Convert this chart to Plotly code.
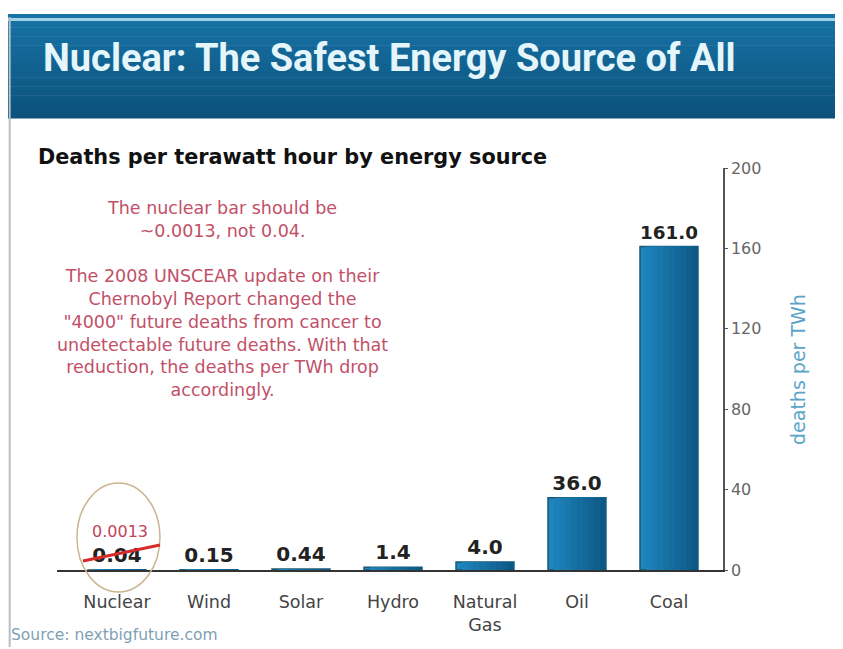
"""
Deaths per TWh by energy source - recreated chart
"""
import plotly.graph_objects as go

# data
sources = ['Nuclear', 'Wind', 'Solar', 'Hydro', 'Natural<br>Gas', 'Oil', 'Coal']
deaths_per_twh = [0.04, 0.15, 0.44, 1.4, 4.0, 36.0, 161.0]
value_labels = ['0.04', '0.15', '0.44', '1.4', '4.0', '36.0', '161.0']
corrected_nuclear = 0.0013
y_ticks = [0, 40, 80, 120, 160, 200]

note_lines = [
    "The nuclear bar should be",
    "~0.0013, not 0.04.",
    "",
    "The 2008 UNSCEAR update on their",
    "Chernobyl Report changed the",
    "\"4000\" future deaths from cancer to",
    "undetectable future deaths. With that",
    "reduction, the deaths per TWh drop",
    "accordingly.",
]

W, H = 843, 649
BAR_W = 0.63


# positions measured on the reference picture (pixels) -> paper coords
def px_x(p):
    return (p - 8) / W


def px_y(p):
    return 1 - (p - 17) / 630


def mix(c0, c1, t):
    return 'rgb(%d,%d,%d)' % tuple(round(a + (b - a) * t) for a, b in zip(c0, c1))


fig = go.Figure()

cats = list(range(len(sources)))

# base bar with labels
fig.add_trace(go.Bar(
    x=cats,
    y=deaths_per_twh,
    width=BAR_W,
    marker=dict(color='rgb(30,134,190)', line=dict(color='#1b5872', width=1.5)),
    text=value_labels,
    textposition='outside',
    textfont=dict(family='DejaVu Sans', size=20, color='#222', weight='bold'),
    cliponaxis=False,
    showlegend=False,
    hoverinfo='skip',
))

# darker layers stacked from the right edge -> left-to-right shading
n_layers = 10
light, dark = (30, 134, 190), (11, 84, 128)
for i in range(1, n_layers):
    k = i / n_layers
    fig.add_trace(go.Bar(
        x=cats,
        y=deaths_per_twh,
        width=BAR_W * (1 - k) - 0.004,
        offset=-BAR_W / 2 + BAR_W * k,
        marker=dict(color=mix(light, dark, k), line=dict(width=0)),
        showlegend=False,
        hoverinfo='skip',
    ))

fig.update_layout(
    width=W, height=H,
    margin=dict(l=0, r=0, t=0, b=0),
    paper_bgcolor='white',
    plot_bgcolor='white',
    barmode='overlay',
    xaxis=dict(
        domain=[px_x(57), px_x(723)],
        range=[-0.652, 6.587],
        tickmode='array',
        tickvals=cats,
        ticktext=sources,
        tickfont=dict(family='DejaVu Sans', size=17.5, color='#444'),
        showline=True, linecolor='#333', linewidth=1.5,
        ticks='outside', ticklen=15, tickcolor='rgba(0,0,0,0)',
        showgrid=False, zeroline=False,
        fixedrange=True,
    ),
    yaxis=dict(
        domain=[px_y(570), px_y(168)],
        range=[0, 200],
        side='right',
        tickvals=y_ticks,
        tickfont=dict(family='DejaVu Sans', size=16, color='#666'),
        showline=True, linecolor='#555', linewidth=1.5,
        ticks='outside', ticklen=3, tickcolor='#555',
        showgrid=False, zeroline=False,
        fixedrange=True,
    ),
    font=dict(family='DejaVu Sans'),
)

# header band (stacked strips for a soft top-to-bottom shade) and frame
top_rgb, bottom_rgb = (24, 116, 168), (12, 82, 124)
n_strips = 24
y_top, y_bot = 9, 118
for i in range(n_strips):
    s0 = y_top + (y_bot - y_top) * i / n_strips
    s1 = y_top + (y_bot - y_top) * (i + 1) / n_strips
    fig.add_shape(type='rect', xref='paper', yref='paper',
                  x0=px_x(6), x1=px_x(837), y0=px_y(s1 + 0.5), y1=min(px_y(s0), 1),
                  line=dict(width=0), fillcolor=mix(top_rgb, bottom_rgb, i / (n_strips - 1)),
                  layer='below')
fig.add_shape(type='line', xref='paper', yref='paper',
              x0=px_x(6), x1=px_x(837), y0=0.996, y1=0.996,
              line=dict(color='#9fd3ea', width=3))
fig.add_shape(type='line', xref='paper', yref='paper',
              x0=0.002, x1=0.002, y0=0, y1=1,
              line=dict(color='#b5bfc5', width=2))
fig.add_shape(type='line', xref='paper', yref='paper',
              x0=px_x(837), x1=px_x(837), y0=0, y1=px_y(118),
              line=dict(color='#e3eef3', width=2))

fig.add_annotation(
    text="<b>Nuclear: The Safest Energy Source of All</b>",
    xref='paper', yref='paper', x=px_x(41), y=px_y(58),
    xanchor='left', yanchor='middle', showarrow=False,
    font=dict(family='Roboto, Liberation Sans', size=38, color='#e4f6fb'),
)

fig.add_annotation(
    text="<b>Deaths per terawatt hour by energy source</b>",
    xref='paper', yref='paper', x=px_x(36), y=px_y(157),
    xanchor='left', yanchor='middle', showarrow=False,
    font=dict(family='DejaVu Sans', size=20.8, color='#111'),
)

fig.add_annotation(
    text="<br>".join(note_lines),
    xref='paper', yref='paper', x=px_x(222), y=px_y(196),
    xanchor='center', yanchor='top', align='center', showarrow=False,
    font=dict(family='DejaVu Sans', size=17.5, color='#c25068'),
)

fig.add_annotation(
    text="deaths per TWh",
    xref='paper', yref='paper', x=px_x(811), y=px_y(370),
    textangle=-90, showarrow=False,
    font=dict(family='DejaVu Sans', size=19, color='#5aa5c8'),
)

fig.add_annotation(
    text="Source: nextbigfuture.com",
    xref='paper', yref='paper', x=px_x(9), y=px_y(635),
    xanchor='left', yanchor='middle', showarrow=False,
    font=dict(family='DejaVu Sans', size=15.5, color='#7f9fb5'),
)

# correction on the nuclear bar
fig.add_shape(type='circle', xref='x', yref='paper',
              x0=-0.435, x1=0.467, y0=px_y(592), y1=px_y(483),
              line=dict(color='#c9b58e', width=1.5))
fig.add_annotation(
    text=f"{corrected_nuclear:.4f}",
    xref='x', yref='y', x=0.03, y=19.4,
    showarrow=False,
    font=dict(family='DejaVu Sans', size=16, color='#c0445a'),
)
fig.add_shape(type='line', xref='x', yref='y',
              x0=-0.37, x1=0.467, y0=4.5, y1=12.4,
              line=dict(color='#d62b2b', width=3))

fig.write_html("out.html")
